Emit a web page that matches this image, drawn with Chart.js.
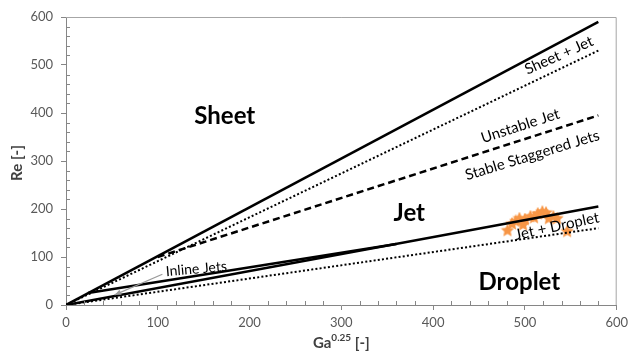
<!DOCTYPE html>
<html>
<head>
<meta charset="utf-8">
<script src="https://cdn.jsdelivr.net/npm/chart.js@4.4.0/dist/chart.umd.min.js"></script>
<style>
  html, body { margin: 0; padding: 0; background: #fff; }
  #wrap { width: 633px; height: 353px; }
</style>
</head>
<body>
<div id="wrap"><canvas id="regimeChart" width="633" height="353"></canvas></div>
<script>
// boundary lines, Ga^0.25 vs Re
const sheetLine      = [{x: 0, y: 0}, {x: 580, y: 590}];
const sheetJetLine   = [{x: 0, y: 0}, {x: 580, y: 530}];
const staggeredLine  = [{x: 100, y: 100}, {x: 580, y: 395}];
const inlineLine     = [{x: 24, y: 25}, {x: 360, y: 127}];
const jetLine        = [{x: 0, y: 0}, {x: 580, y: 205}];
const jetDropLine    = [{x: 0, y: 0}, {x: 580, y: 160}];

// measured points
const measGa = [481, 486, 490, 494, 498, 500, 506, 510, 514, 519, 523, 526, 531, 535, 546];
const measRe = [155, 169, 174, 180, 167, 178, 184, 182, 190, 194, 192, 180, 184, 180, 153];

const xTicks = [0, 100, 200, 300, 400, 500, 600];
const yTicks = [0, 100, 200, 300, 400, 500, 600];

const FONT = 'Lato, "Open Sans", sans-serif';

// filled star for the measurement markers
function makeStar(size, color) {
    const c = document.createElement('canvas');
    c.width = size; c.height = size;
    const g = c.getContext('2d');
    const cx = size / 2, cy = size / 2, ro = size / 2, ri = size / 4.2;
    g.beginPath();
    for (let i = 0; i < 10; i++) {
        const r = i % 2 ? ri : ro;
        const a = -Math.PI / 2 + i * Math.PI / 5;
        g.lineTo(cx + r * Math.cos(a), cy + r * Math.sin(a));
    }
    g.closePath();
    g.fillStyle = color;
    g.fill();
    return c;
}
const starImg = makeStar(14, '#F79646');

// region names and line labels (data coordinates, angle in px-space degrees)
const labels = [
    {text: 'Sheet', x: 173, y: 394, bold: true, size: 24, rot: 0},
    {text: 'Jet', x: 374, y: 192, bold: true, size: 24, rot: 0},
    {text: 'Droplet', x: 494, y: 47, bold: true, size: 24, rot: 0},
    {text: 'Sheet + Jet', x: 537, y: 520, size: 15, rot: -24},
    {text: 'Unstable Jet', x: 495, y: 373, size: 15, rot: -18},
    {text: 'Stable Staggered Jets', x: 508, y: 312, size: 15, rot: -17},
    {text: 'Jet + Droplet', x: 535, y: 164, size: 15, rot: -12},
    {text: 'Inline Jets', x: 142, y: 75, size: 14, rot: -5},
];

const decorPlugin = {
    id: 'decor',
    afterDatasetsDraw(chart) {
        const ctx = chart.ctx;
        const xs = chart.scales.x, ys = chart.scales.y;
        const a = chart.chartArea;

        // plot box top/right
        ctx.save();
        ctx.strokeStyle = '#a6a6a6';
        ctx.lineWidth = 1;
        ctx.beginPath();
        ctx.moveTo(a.left, a.top + 0.5);
        ctx.lineTo(a.right - 0.5, a.top + 0.5);
        ctx.lineTo(a.right - 0.5, a.bottom);
        ctx.stroke();

        // minor ticks every 20, pointing inward
        ctx.strokeStyle = '#868686';
        ctx.beginPath();
        for (let v = 20; v < 600; v += 20) {
            if (v % 100 === 0) continue;
            const px = Math.round(xs.getPixelForValue(v)) + 0.5;
            ctx.moveTo(px, a.bottom);
            ctx.lineTo(px, a.bottom - 4);
            const py = Math.round(ys.getPixelForValue(v)) + 0.5;
            ctx.moveTo(a.left, py);
            ctx.lineTo(a.left + 4, py);
        }
        ctx.stroke();

        // arrow for inline jets
        const x0 = xs.getPixelForValue(105), y0 = ys.getPixelForValue(64);
        const x1 = xs.getPixelForValue(53), y1 = ys.getPixelForValue(21);
        ctx.strokeStyle = '#9a9a9a';
        ctx.fillStyle = '#9a9a9a';
        ctx.lineWidth = 1.2;
        ctx.beginPath();
        ctx.moveTo(x0, y0);
        ctx.lineTo(x1, y1);
        ctx.stroke();
        const ang = Math.atan2(y1 - y0, x1 - x0);
        ctx.beginPath();
        ctx.moveTo(x1, y1);
        ctx.lineTo(x1 - 7 * Math.cos(ang - 0.4), y1 - 7 * Math.sin(ang - 0.4));
        ctx.lineTo(x1 - 7 * Math.cos(ang + 0.4), y1 - 7 * Math.sin(ang + 0.4));
        ctx.closePath();
        ctx.fill();

        // text labels
        ctx.fillStyle = '#000';
        ctx.textAlign = 'center';
        ctx.textBaseline = 'middle';
        labels.forEach(l => {
            ctx.save();
            ctx.translate(xs.getPixelForValue(l.x), ys.getPixelForValue(l.y));
            ctx.rotate(l.rot * Math.PI / 180);
            ctx.font = (l.bold ? 'bold ' : '') + l.size + 'px ' + FONT;
            ctx.fillText(l.text, 0, 0);
            ctx.restore();
        });

        // axis titles
        ctx.fillStyle = '#404040';
        ctx.save();
        ctx.translate(17, 163);
        ctx.rotate(-Math.PI / 2);
        ctx.font = 'bold 15px ' + FONT;
        ctx.fillText('Re [-]', 0, 0);
        ctx.restore();

        const cx = (a.left + a.right) / 2;
        ctx.font = 'bold 15px ' + FONT;
        const wGa = ctx.measureText('Ga').width;
        const wBr = ctx.measureText(' [-]').width;
        ctx.font = 'bold 10px ' + FONT;
        const wSup = ctx.measureText('0.25').width;
        let sx = cx - (wGa + wSup + wBr) / 2;
        ctx.textAlign = 'left';
        ctx.font = 'bold 15px ' + FONT;
        ctx.fillText('Ga', sx, 343);
        ctx.font = 'bold 10px ' + FONT;
        ctx.fillText('0.25', sx + wGa, 338);
        ctx.font = 'bold 15px ' + FONT;
        ctx.fillText(' [-]', sx + wGa + wSup, 343);
        ctx.restore();
    }
};

function lineSet(points, dash, width) {
    return {
        data: points,
        showLine: true,
        borderColor: '#000',
        borderWidth: width,
        borderDash: dash,
        borderCapStyle: 'butt',
        pointRadius: 0,
        fill: false,
    };
}

const dotted = [2, 2.2];
const dashed = [7, 4];

const data = {
    datasets: [
        lineSet(sheetLine, [], 2.5),
        lineSet(sheetJetLine, dotted, 2),
        lineSet(staggeredLine, dashed, 2.5),
        lineSet(inlineLine, [], 2.5),
        lineSet(jetLine, [], 2.5),
        lineSet(jetDropLine, dotted, 2),
        {
            data: measGa.map((g, i) => ({x: g, y: measRe[i]})),
            showLine: false,
            pointStyle: starImg,
            pointRadius: 7,
        },
    ]
};

const tickFont = {family: FONT, size: 13};

new Chart(document.getElementById('regimeChart'), {
    type: 'scatter',
    data: data,
    options: {
        responsive: false,
        animation: false,
        layout: {padding: {left: 0, right: 13, top: 17, bottom: 0}},
        plugins: {legend: {display: false}, tooltip: {enabled: false}},
        scales: {
            x: {
                type: 'linear',
                min: 0, max: 600,
                afterFit: s => { s.height = 48; },
                afterBuildTicks: s => { s.ticks = xTicks.map(v => ({value: v})); },
                ticks: {font: tickFont, color: '#595959', padding: 5, maxRotation: 0},
                grid: {drawOnChartArea: false, tickLength: 5, color: '#868686'},
                border: {color: '#868686'},
            },
            y: {
                type: 'linear',
                min: 0, max: 600,
                afterFit: s => { s.width = 66; },
                afterBuildTicks: s => { s.ticks = yTicks.map(v => ({value: v})); },
                ticks: {font: tickFont, color: '#595959', padding: 8},
                grid: {drawOnChartArea: false, tickLength: 5, color: '#868686'},
                border: {color: '#868686'},
            },
        },
    },
    plugins: [decorPlugin],
});
</script>
</body>
</html>
